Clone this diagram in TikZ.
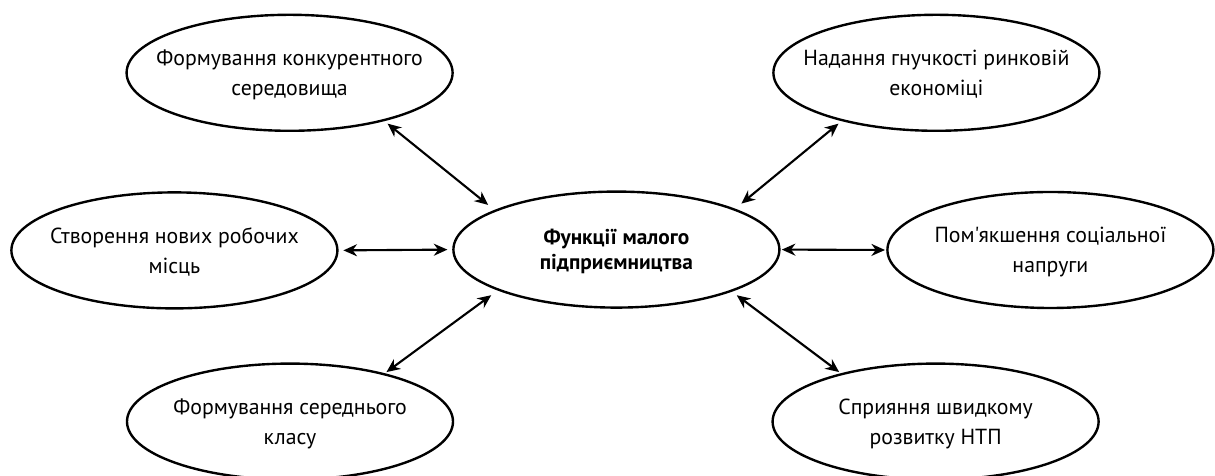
\documentclass[tikz,border=0pt]{standalone}
\usepackage{fontspec}
\setmainfont{PT Sans}[Ligatures=TeXOff]
\usetikzlibrary{shapes.geometric}
\usetikzlibrary{arrows.meta}
\tikzset{oval/.style = {draw, ellipse, line width = 1.7pt,
                        minimum width = 8.15cm, minimum height = 2.9cm,
                        inner xsep = -1cm, inner ysep = 0, align = center,
                        text depth = -1.5pt,
                        font = \fontsize{15.5}{21}\selectfont}}
\tikzset{mainoval/.style = {oval, font = \fontsize{15.2}{17.5}\selectfont\bfseries}}
\tikzset{link/.style = {{Stealth[length=3.4mm, width=3mm, inset=1.1mm]}-{Stealth[length=3.4mm, width=3mm, inset=1.1mm]},
                        line width = 1.5pt}}

\begin{document}
\begin{tikzpicture}
      \useasboundingbox (0, 0) rectangle (30.375, 11.9);
      \node [mainoval] (func) at (15.41, 5.66) {Функції малого\\підприємництва};
      \node [oval] (compet) at (7.24, 10.08) {Формування конкурентного\\середовища};
      \node [oval] (flex) at (23.41, 10.08) {Надання гнучкості ринковій\\економіці};
      \node [oval] (jobs) at (4.36, 5.64) {Створення нових робочих\\місць};
      \node [oval] (tension) at (26.26, 5.65) {Пом'якшення соціальної\\напруги};
      \node [oval] (middle) at (7.25, 1.36) {Формування середнього\\класу};
      \node [oval] (ntp) at (23.39, 1.36) {Сприяння швидкому\\розвитку НТП};
      % links
      \draw [link, shorten < = 0.1cm, shorten > = 0.2cm] (compet.-27) -- (func.162);
      \draw [link, shorten < = 0.1cm, shorten > = 0.2cm] (flex.-153) -- (func.19);
      \draw [link, shorten < = 0.05cm, shorten > = 0.2cm] (middle.27) -- (func.-161);
      \draw [link, shorten < = 0.05cm, shorten > = 0.15cm] (ntp.153) -- (func.-20);
      \draw [link, shorten < = 0.12cm, shorten > = 0.12cm] (jobs.east) -- (func.west);
      \draw [link, shorten < = 0.03cm, shorten > = 0.03cm] (func.east) -- (tension.west);
\end{tikzpicture}
\end{document}
